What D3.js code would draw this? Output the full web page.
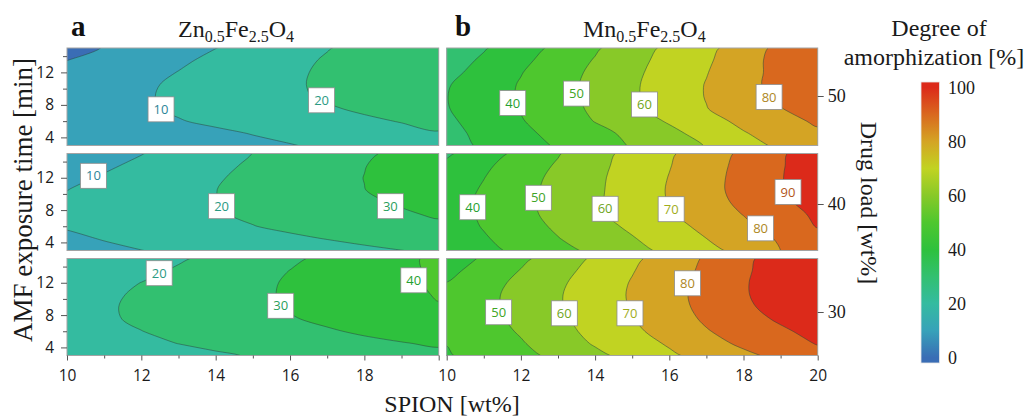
<!DOCTYPE html>
<html><head><meta charset="utf-8">
<script src="https://cdn.jsdelivr.net/npm/d3@7"></script>
<style>body{margin:0;background:#fff}svg{display:block}</style>
</head><body><svg id="chart" width="1029" height="419"></svg>
<script>
// ---------- data ----------
const spion = [10,11,12,13,14,15,16,17,18,19,20];           // SPION [wt%] grid
const amfTime = [3,4.5,6,7.5,9,10.5,12,13.5,15];           // AMF exposure time [min] grid
const levels = [0,10,20,30,40,50,60,70,80,90];             // contour levels
const drugLoads = [50,40,30];                              // one row each
const materials = [[["Zn","0.5"],["Fe","2.5"],["O","4"]],[["Mn","0.5"],["Fe","2.5"],["O","4"]]];
const panelLetters = ["a","b"];
const spionTicks = [10,12,14,16,18,20];
const spionMinor = [11,13,15,17,19];
const timeTicks = [4,8,12];
const timeMinor = [6,10,14];
const colorbarTicks = [0,20,40,60,80,100];
const colorValues = [0,10,20,30,40,50,60,70,80,90,100];
const colorHexes = ['#3a6db5','#37a2b9','#34bba0','#32c070','#2ec13d','#4ec72e','#88c928','#c1d322','#d4a424','#d9681e','#dc2a1a'];

// degree of amorphization [%], rows = amfTime (ascending), cols = spion
const zn50 = [
 [1.0,2.4,3.9,5.3,6.7,8.2,9.6,11.4,13.3,15.2,17.0],
 [1.8,3.5,5.3,7.0,8.6,10.3,12.1,13.9,15.8,17.6,19.5],
 [4.3,6.1,7.9,9.6,11.4,13.2,15.0,16.8,18.6,20.4,22.1],
 [4.9,7.0,9.0,11.0,13.1,15.1,17.1,19.1,21.2,23.2,25.2],
 [4.3,6.7,9.1,11.5,13.9,16.2,18.6,21.0,23.3,25.5,27.5],
 [3.7,6.2,8.7,11.3,13.8,16.3,18.9,21.4,23.8,26.0,28.0],
 [2.0,4.7,7.4,10.2,13.0,15.8,18.6,21.3,23.8,26.0,27.8],
 [-0.1,2.9,5.8,8.7,11.7,14.7,17.7,20.8,23.6,26.0,28.2],
 [-2.9,0.3,3.5,6.7,9.9,13.0,16.2,19.6,22.6,25.2,27.6]];
const zn40 = [
 [7.1,8.5,9.9,11.3,12.8,14.2,15.6,17.0,18.4,19.9,21.3],
 [8.7,10.4,12.0,13.7,15.4,17.0,18.7,20.3,22.0,23.6,25.3],
 [10.6,12.4,14.3,16.1,18.0,19.8,21.6,23.3,25.0,26.8,28.5],
 [11.2,13.2,15.2,17.3,19.3,21.3,23.2,25.1,27.1,29.0,31.0],
 [10.8,13.0,15.3,17.5,19.8,22.0,24.3,26.5,28.7,30.9,33.1],
 [9.9,12.5,15.0,17.5,19.9,22.4,24.9,27.5,29.9,32.5,35.0],
 [7.9,10.8,13.6,16.4,19.3,21.9,24.6,27.4,30.1,32.8,35.4],
 [5.6,8.7,11.8,15.0,18.1,21.2,24.1,27.0,29.8,32.7,35.5],
 [2.7,6.2,9.7,13.1,16.6,20.1,23.0,26.0,28.9,31.8,34.7]];
const zn30 = [
 [13.0,14.5,16.0,17.5,19.0,20.5,22.0,23.5,25.0,26.5,28.0],
 [15.1,16.8,18.4,20.1,21.7,23.4,25.1,26.7,28.2,29.6,31.0],
 [16.2,18.0,19.9,21.8,23.6,25.5,27.3,29.2,31.1,32.9,34.8],
 [16.9,19.0,21.1,23.2,25.3,27.4,29.4,31.5,33.6,35.6,37.7],
 [16.7,19.1,21.4,23.7,26.1,28.4,30.7,32.9,35.2,37.4,39.6],
 [16.2,18.6,21.1,23.5,26.0,28.5,30.9,33.3,35.7,38.1,40.5],
 [14.7,17.4,20.1,22.8,25.5,28.2,30.8,33.4,35.9,38.5,41.1],
 [11.8,14.9,17.9,21.0,24.0,27.1,30.1,32.9,35.7,38.5,41.3],
 [10.5,13.0,15.8,19.0,22.2,25.4,28.6,31.8,35.1,38.4,41.6]];
const mn50 = [
 [26.4,31.4,36.2,41.0,45.9,50.7,55.5,60.4,66.2,71.9,76.0],
 [27.1,32.4,37.7,42.9,47.5,52.0,57.7,63.3,69.4,73.9,78.5],
 [28.3,33.8,39.4,44.8,50.3,55.6,60.9,66.8,72.1,76.7,81.4],
 [29.5,35.0,40.5,46.0,51.6,57.8,64.0,69.7,74.7,79.6,84.5],
 [29.8,35.4,40.9,46.6,52.2,58.7,64.6,70.4,76.3,81.7,87.5],
 [29.3,35.0,40.7,46.6,52.5,58.7,64.6,70.4,76.8,83.3,89.0],
 [27.2,33.4,39.6,45.8,51.9,58.1,63.9,69.6,76.5,83.0,88.5],
 [25.2,31.5,37.8,44.2,50.6,57.1,63.1,68.6,75.9,83.5,89.0],
 [22.7,29.2,35.8,42.3,48.8,55.7,62.1,67.5,74.8,82.7,88.0]];
const mn40 = [
 [32.6,37.4,42.3,47.2,52.0,57.2,62.2,67.2,73.1,80.0,84.0],
 [33.8,39.1,44.4,49.7,54.6,59.4,64.7,70.0,76.0,81.0,87.0],
 [35.0,40.6,46.1,51.5,56.6,61.7,67.0,72.3,78.0,84.5,90.5],
 [35.5,41.4,47.3,52.9,58.5,63.6,69.1,74.7,80.3,86.0,91.7],
 [36.0,41.7,47.6,53.4,58.6,64.5,70.4,76.3,82.1,88.0,93.9],
 [35.0,41.0,47.1,52.9,58.4,64.5,70.7,76.9,83.1,89.3,95.4],
 [33.4,39.8,46.2,52.4,58.2,64.1,70.3,76.7,83.1,89.5,95.8],
 [32.0,38.3,44.7,51.1,57.5,63.6,69.6,76.1,82.7,89.2,95.7],
 [28.6,35.6,42.6,49.3,56.5,63.0,68.8,75.2,81.9,88.9,95.0]];
const mn30 = [
 [39.2,43.4,47.5,52.2,57.8,63.2,68.5,73.3,77.9,82.5,87.0],
 [40.2,44.7,49.2,55.0,60.9,66.0,71.0,76.5,81.8,86.2,90.5],
 [41.0,45.9,50.9,57.0,62.6,68.1,73.7,79.4,84.0,88.5,93.0],
 [41.5,46.6,52.5,58.1,63.9,69.6,75.5,81.3,86.4,91.3,96.0],
 [41.8,47.3,53.2,59.1,64.9,70.6,76.6,82.5,88.2,93.5,98.0],
 [41.5,47.3,53.3,59.2,65.1,71.0,77.0,83.0,89.1,94.5,98.5],
 [40.1,46.2,52.3,58.4,64.6,70.6,76.5,82.7,89.2,94.5,98.5],
 [37.5,43.7,50.4,56.8,63.2,69.5,75.7,81.9,88.6,94.5,98.0],
 [34.5,41.3,48.0,54.8,61.5,68.0,74.6,81.1,87.9,94.5,98.0]];

// contour labels: [level, SPION, time]
const labZn50 = [[10,12.53,7.45],[20,16.85,8.56]];
const labZn40 = [[10,10.71,12.24],[20,14.16,8.48],[30,18.7,8.48]];
const labZn30 = [[20,12.48,13.18],[30,15.75,9.15],[40,19.33,12.3]];
const labMn50 = [[40,11.78,8.23],[50,13.5,9.39],[60,15.33,8.05],[80,18.69,8.97]];
const labMn40 = [[40,10.7,8.35],[50,12.47,9.52],[60,14.27,8.16],[70,16.05,8.11],[80,18.46,5.74],[90,19.2,10.24]];
const labMn30 = [[50,11.4,8.35],[60,13.17,8.22],[70,14.94,8.22],[80,16.49,11.93]];

// ---------- drawing ----------
const SERIF = '"Liberation Serif","Times New Roman",serif';
const SANS = '"Open Sans","Noto Sans",sans-serif';
const svg = d3.select('#chart');
const defs = svg.append('defs');
const color = d3.scaleLinear().domain(colorValues).range(colorHexes).clamp(true);

const colX = [[67,438.7],[446.7,817.7]];
const rowY = [[48,145.5],[153.5,250.5],[258.5,355.5]];
const panels = [
  {col:0,row:0,grid:zn50,labels:labZn50},
  {col:0,row:1,grid:zn40,labels:labZn40},
  {col:0,row:2,grid:zn30,labels:labZn30},
  {col:1,row:0,grid:mn50,labels:labMn50},
  {col:1,row:1,grid:mn40,labels:labMn40},
  {col:1,row:2,grid:mn30,labels:labMn30}
];

function styleAxis(a, fontSize, family){
  a.select('.domain').remove();
  a.selectAll('.tick line').attr('stroke','#555').attr('stroke-width',1);
  a.selectAll('.tick text').attr('font-family',family).attr('font-size',fontSize).attr('fill','#1a1a1a');
}

const smoothLine = d3.line().curve(d3.curveCatmullRomClosed.alpha(0.5));

panels.forEach((p,i)=>{
  const xs = d3.scaleLinear().domain(d3.extent(spion)).range(colX[p.col]);
  const ys = d3.scaleLinear().domain(d3.extent(amfTime)).range([rowY[p.row][1], rowY[p.row][0]]);
  const g = svg.append('g');
  const x0 = xs.range()[0], x1 = xs.range()[1], yTop = ys.range()[1], yBot = ys.range()[0];
  defs.append('clipPath').attr('id','clip'+i).append('rect')
    .attr('x',x0).attr('y',yTop).attr('width',x1-x0).attr('height',yBot-yTop);
  const body = g.append('g').attr('clip-path',`url(#clip${i})`);
  body.append('rect').attr('x',x0).attr('y',yTop).attr('width',x1-x0).attr('height',yBot-yTop)
    .attr('fill',color(levels[0]));
  const cs = d3.contours().size([spion.length, amfTime.length]).thresholds(levels)(p.grid.flat());
  const sx = spion[1]-spion[0], st = amfTime[1]-amfTime[0];
  // grid coordinate -> pixel (sample k sits at k+0.5 in d3.contours space)
  const toPx = ([gx,gy]) => [xs(spion[0]+(gx-0.5)*sx), ys(amfTime[0]+(gy-0.5)*st)];
  const pathOf = mp => mp.coordinates.map(poly => poly.map(ring =>
      smoothLine(ring.slice(0,-1).map(toPx))).join('')).join('');
  body.selectAll('path.band').data(cs).join('path').attr('class','band')
    .attr('d',pathOf).attr('fill-rule','evenodd').attr('fill',d=>color(d.value+10));
  body.selectAll('path.cline').data(cs).join('path').attr('class','cline')
    .attr('d',pathOf).attr('fill','none').attr('stroke','#2c4640').attr('stroke-opacity',0.75).attr('stroke-width',0.7);
  g.append('rect').attr('x',x0).attr('y',yTop).attr('width',x1-x0).attr('height',yBot-yTop)
    .attr('fill','none').attr('stroke','#a3a3a3').attr('stroke-width',1);

  // contour labels
  const lab = g.selectAll('g.lab').data(p.labels).join('g').attr('class','lab')
    .attr('transform',d=>`translate(${xs(d[1])},${ys(d[2])})`);
  lab.append('rect').attr('x',-13).attr('y',-12.5).attr('width',26).attr('height',25)
    .attr('fill','#fff').attr('stroke','#8c8c8c').attr('stroke-width',0.8);
  lab.append('text').attr('text-anchor','middle').attr('dy','0.36em')
    .attr('font-family',SANS).attr('font-size',13)
    .attr('fill',d=>d3.color(color(d[0])).darker(0.55).formatHex()).text(d=>d[0]);

  // left axes (column a)
  if(p.col===0){
    const am = g.append('g').attr('transform',`translate(${x0},0)`)
      .call(d3.axisLeft(ys).tickValues(timeMinor).tickSize(4).tickFormat(''));
    styleAxis(am,15.5,SANS);
    const a = g.append('g').attr('transform',`translate(${x0},0)`)
      .call(d3.axisLeft(ys).tickValues(timeTicks).tickSize(6).tickPadding(7));
    styleAxis(a,15.5,SANS);
  }
  // bottom axes
  if(p.row===2){
    const bm = g.append('g').attr('transform',`translate(0,${yBot})`)
      .call(d3.axisBottom(xs).tickValues(spionMinor).tickSize(3).tickFormat(''));
    styleAxis(bm,15.5,SANS);
    const b = g.append('g').attr('transform',`translate(0,${yBot})`)
      .call(d3.axisBottom(xs).tickValues(spionTicks).tickSize(5).tickPadding(9)
        .tickFormat(d => (p.col===0 && d===d3.max(spionTicks)) ? '' : d));
    styleAxis(b,15.5,SANS);
  }
});

// right axis: drug load
const drugScale = d3.scaleLinear().domain([30,50]).range([312,96]);
const ra = svg.append('g').attr('transform',`translate(${colX[1][1]},0)`)
  .call(d3.axisRight(drugScale).tickValues(drugLoads).tickSize(6).tickPadding(4));
styleAxis(ra,18,SERIF);
svg.append('text').attr('transform','translate(861,203) rotate(90)')
  .attr('text-anchor','middle').attr('font-family',SERIF).attr('font-size',24).attr('fill','#1a1a1a')
  .text('Drug load [wt%]');

// panel letters and titles
const letterX = [71,455];
const titleX = [178,583];
panelLetters.forEach((l,i)=>{
  svg.append('text').attr('x',letterX[i]).attr('y',36).attr('font-family',SERIF)
    .attr('font-weight','bold').attr('font-size',29).attr('fill','#111').text(l);
  const t = svg.append('text').attr('x',titleX[i]).attr('y',36.5).attr('font-family',SERIF)
    .attr('font-size',24).attr('fill','#1a1a1a');
  materials[i].forEach(([base,sub],k)=>{
    t.append('tspan').attr('font-size',24).attr('dy',k===0?0:-5).text(base);
    t.append('tspan').attr('font-size',16).attr('dy',5).text(sub);
  });
});

// axis titles
svg.append('text').attr('transform','translate(32,200) rotate(-90)')
  .attr('text-anchor','middle').attr('font-family',SERIF).attr('font-size',27).attr('fill','#1a1a1a')
  .text('AMF exposure time [min]');
svg.append('text').attr('x',452).attr('y',412).attr('text-anchor','middle')
  .attr('font-family',SERIF).attr('font-size',24).attr('fill','#1a1a1a').text('SPION [wt%]');

// colour bar
const cb = d3.scaleLinear().domain([-2,102]).range([363,82]);
const grad = defs.append('linearGradient').attr('id','cbg').attr('x1',0).attr('y1',1).attr('x2',0).attr('y2',0);
colorValues.forEach((v,i)=>grad.append('stop')
  .attr('offset',(v-cb.domain()[0])/(cb.domain()[1]-cb.domain()[0])).attr('stop-color',colorHexes[i]));
svg.append('rect').attr('x',921).attr('y',cb(102)).attr('width',18.5).attr('height',cb(-2)-cb(102))
  .attr('fill','url(#cbg)').attr('stroke','#e6e6e6').attr('stroke-width',0.8);
svg.selectAll('text.cbt').data(colorbarTicks).join('text').attr('class','cbt')
  .attr('x',948).attr('y',d=>cb(d)).attr('dy','0.35em')
  .attr('font-family',SERIF).attr('font-size',18).attr('fill','#1a1a1a').text(d=>d);
svg.append('text').attr('x',939).attr('y',36).attr('text-anchor','middle')
  .attr('font-family',SERIF).attr('font-size',24).attr('fill','#1a1a1a').text('Degree of');
svg.append('text').attr('x',934).attr('y',65).attr('text-anchor','middle')
  .attr('font-family',SERIF).attr('font-size',24).attr('fill','#1a1a1a').text('amorphization [%]');
</script>
</body></html>
